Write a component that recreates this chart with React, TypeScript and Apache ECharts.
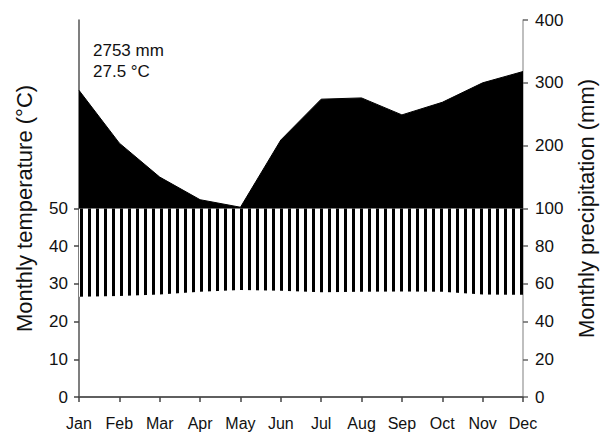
import React, { useEffect, useRef } from "react";
import * as echarts from "echarts";

const months = ["Jan", "Feb", "Mar", "Apr", "May", "Jun", "Jul", "Aug", "Sep", "Oct", "Nov", "Dec"];
const temperature = [26.6, 26.8, 27.2, 27.9, 28.4, 28.2, 27.8, 27.9, 28.0, 27.9, 27.2, 27.1];
const precipitation = [288, 204, 150, 114, 102, 209, 274, 276, 249, 269, 300, 318];
const tempTicks = [0, 10, 20, 30, 40, 50];
const precipTicks = [0, 20, 40, 60, 80, 100, 200, 300, 400];
const annotation = ["2753 mm", "27.5 °C"];

// Walter-Lieth scale: 10 °C = 20 mm up to 100 mm, compressed above 100 mm
const precipToAxis = (mm: number) => (mm <= 100 ? mm / 2 : 50 + (mm - 100) / 6);
const axisToPrecip = (a: number) => (a <= 50 ? a * 2 : 100 + (a - 50) * 6);

const FONT = "'Liberation Sans', Arial, Helvetica, sans-serif";

export default function App() {
  const ref = useRef<HTMLDivElement>(null);
  useEffect(() => {
    if (!ref.current) return;
    const chart = echarts.init(ref.current, undefined, { renderer: "svg" });
    const canvas = document.createElement("canvas");
    canvas.width = 8;
    canvas.height = 8;
    const ctx = canvas.getContext("2d")!;
    ctx.fillStyle = "#ffffff";
    ctx.fillRect(0, 0, 8, 8);
    ctx.fillStyle = "#000000";
    ctx.fillRect(0, 0, 3, 8);

    const hatch = precipitation.map((p, i) => precipToAxis(Math.min(p, 100)) - temperature[i]);
    const wetBase = precipitation.map(() => precipToAxis(100));
    const wet = precipitation.map((p) => precipToAxis(p) - precipToAxis(100));

    chart.setOption({
      animation: false,
      grid: { left: 79, right: 74, top: 20, bottom: 40, containLabel: false },
      xAxis: [
        {
          type: "category",
          data: months,
          boundaryGap: false,
          axisLine: { lineStyle: { color: "#555", width: 1.5 } },
          axisTick: { show: true, length: 5, interval: 0, lineStyle: { color: "#444", width: 1.5 } },
          axisLabel: { color: "#111", fontSize: 16, fontFamily: FONT, margin: 18, interval: 0 },
          splitLine: { show: false },
        },
        {
          type: "category",
          data: months,
          position: "top",
          boundaryGap: false,
          axisLine: { lineStyle: { color: "#555", width: 1.5 } },
          axisTick: { show: false },
          axisLabel: { show: false },
          splitLine: { show: false },
        },
      ],
      yAxis: [
        {
          type: "value",
          min: 0,
          max: 100,
          interval: 10,
          position: "left",
          name: "Monthly temperature (°C)",
          nameLocation: "middle",
          nameRotate: 90,
          nameGap: 44,
          nameTextStyle: { color: "#111", fontSize: 22, fontFamily: FONT },
          axisLine: { show: true, lineStyle: { color: "#555", width: 1.5 } },
          axisTick: { show: true, length: 5, customValues: tempTicks, lineStyle: { color: "#444", width: 1.5 } },
          axisLabel: { customValues: tempTicks, color: "#111", fontSize: 17, fontFamily: FONT, margin: 11 },
          splitLine: { show: false },
        },
        {
          type: "value",
          min: 0,
          max: 100,
          interval: 10,
          position: "right",
          name: "Monthly precipitation (mm)",
          nameLocation: "middle",
          nameRotate: 90,
          nameGap: 52,
          nameTextStyle: { color: "#111", fontSize: 22, fontFamily: FONT },
          axisLine: { show: true, lineStyle: { color: "#aaa", width: 1.5 } },
          axisTick: { show: true, length: 5, customValues: precipTicks.map(precipToAxis), lineStyle: { color: "#666", width: 1.5 } },
          axisLabel: {
            customValues: precipTicks.map(precipToAxis),
            formatter: (v: number) => String(Math.round(axisToPrecip(v))),
            color: "#111",
            fontSize: 17,
            fontFamily: FONT,
            margin: 12,
          },
          splitLine: { show: false },
        },
      ],
      series: [
        { type: "line", stack: "humid", data: temperature, symbol: "none", silent: true, lineStyle: { width: 0, opacity: 0 }, z: 2 },
        {
          type: "line", stack: "humid", data: hatch, symbol: "none", silent: true,
          lineStyle: { width: 0, opacity: 0 },
          areaStyle: { color: { image: canvas, repeat: "repeat" }, opacity: 1 }, z: 2,
        },
        { type: "line", stack: "wet", data: wetBase, symbol: "none", silent: true, lineStyle: { width: 0, opacity: 0 }, z: 3 },
        {
          type: "line", stack: "wet", data: wet, symbol: "none", silent: true,
          lineStyle: { color: "#000", width: 1 }, areaStyle: { color: "#000", opacity: 1 }, z: 3,
        },
      ],
      graphic: [
        {
          type: "text", left: 93, top: 40,
          style: { text: annotation.join("\n"), fill: "#111", fontSize: 17, lineHeight: 21, fontFamily: FONT },
        },
      ],
    });
    return () => chart.dispose();
  }, []);
  return <div ref={ref} style={{ width: 605, height: 437, position: "absolute", left: 0, top: 0 }} />;
}
